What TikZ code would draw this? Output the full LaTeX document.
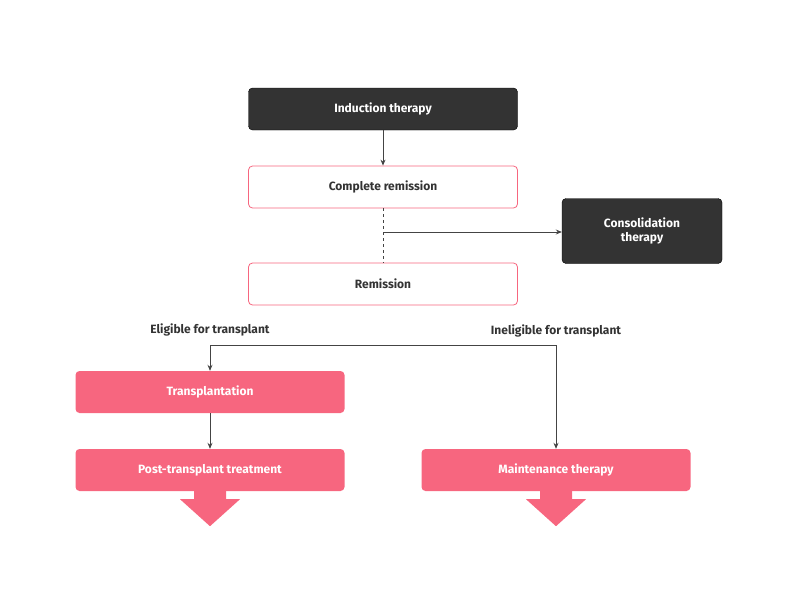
\documentclass[tikz,border=0pt]{standalone}
\usepackage{fontspec}
\setmainfont{Fira Sans}
\usetikzlibrary{positioning, arrows.meta}
\definecolor{darkbox}{HTML}{333333}
\definecolor{rose}{HTML}{F7667F}
\definecolor{line}{HTML}{444444}
\begin{document}
\begin{tikzpicture}[x=1pt, y=-1pt,
    box/.style={rounded corners=4pt, minimum width=269pt, minimum height=42pt,
      font=\bfseries\fontsize{12}{14}\selectfont, align=center},
    dark/.style={box, fill=darkbox, draw=black, text=white},
    hollow/.style={box, fill=white, draw=rose, thick, text=darkbox},
    solid/.style={box, fill=rose, text=white},
    arr/.style={draw=line, thick, -{Stealth[length=6pt, width=5pt]}},
    tag/.style={font=\bfseries\fontsize{12}{14}\selectfont, text=darkbox}]
  \useasboundingbox (0,0) rectangle (800,600);
  \node[dark] (induction) at (383,109) {Induction therapy};
  \node[hollow] (complete) at (383,187) {Complete remission};
  \node[dark, minimum width=160pt, minimum height=65pt] (consol) at (642,231) {Consolidation\\therapy};
  \node[hollow] (remission) at (383,284) {Remission};
  \node[solid] (transplant) at (210,392) {Transplantation};
  \node[solid] (post) at (210,470) {Post-transplant treatment};
  \node[solid] (maint) at (556,470) {Maintenance therapy};
  \node[tag] (eligible) at (210,330) {Eligible for transplant};
  \node[tag] (ineligible) at (556,331) {Ineligible for transplant};
  \coordinate (fork) at (383,232);
  \coordinate (split) at (383,345);

  \draw[arr] (induction) -- (complete);
  \draw[draw=line, thick, dashed] (complete) -- (remission);
  \draw[arr] (fork) -- (consol.west |- fork);
  \draw[arr] (transplant.north |- split) -- (transplant);
  \draw[arr] (maint.north |- split) -- (maint);
  \draw[draw=line, thick] (transplant.north |- split) -- (maint.north |- split);
  \draw[arr] (transplant) -- (post);

  % down arrows under the last boxes
  \foreach \b in {post, maint}
    \fill[rose] (\b.south) ++(-16,0) -- ++(0,8) -- ++(-14,0) -- ++(30,27)
      -- ++(30,-27) -- ++(-14,0) -- ++(0,-8) -- cycle;
\end{tikzpicture}
\end{document}
